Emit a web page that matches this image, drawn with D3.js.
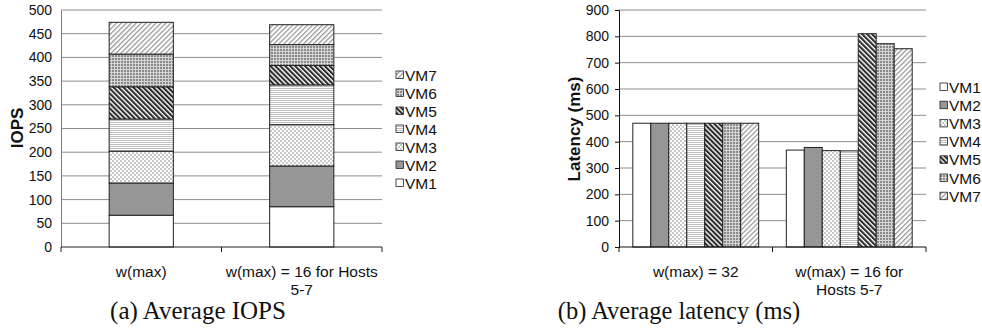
<!DOCTYPE html>
<html><head><meta charset="utf-8">
<script src="https://cdn.jsdelivr.net/npm/d3@7/dist/d3.min.js"></script>
<style>
html,body{margin:0;padding:0;background:#fff;}
svg{display:block;}
text{font-family:"Liberation Sans",Arial,sans-serif;fill:#111;}
</style></head>
<body>
<svg id="chart" width="982" height="333"></svg>
<script>
// ---- data ----
const vms = ["VM1","VM2","VM3","VM4","VM5","VM6","VM7"];
const iopsCats = ["w(max)", "w(max) = 16 for Hosts 5-7"];
const iopsCatLines = [["w(max)"], ["w(max) = 16 for Hosts", "5-7"]];
const iopsWmax = [67, 68, 67, 68, 68, 69, 67];
const iopsW16 = [85, 86, 87, 84, 41, 44, 42];
const latCats = ["w(max) = 32", "w(max) = 16 for Hosts 5-7"];
const latCatLines = [["w(max) = 32"], ["w(max) = 16 for", "Hosts 5-7"]];
const latWmax32 = [470, 470, 470, 470, 470, 470, 470];
const latW16 = [368, 378, 366, 365, 810, 772, 753];
const iopsTicks = d3.range(0, 501, 50);
const latTicks = d3.range(0, 901, 100);

const svg = d3.select("#chart");
const defs = svg.append("defs");

// ---- patterns ----
function pat(id, w, h, build, transform){
  const p = defs.append("pattern").attr("id", id).attr("patternUnits","userSpaceOnUse")
    .attr("width", w).attr("height", h);
  if (transform) p.attr("patternTransform", transform);
  build(p);
}
pat("p1",4,4,p=>{p.append("rect").attr("width",4).attr("height",4).attr("fill","#fff");});
pat("p2",4,4,p=>{p.append("rect").attr("width",4).attr("height",4).attr("fill","#969696");});
pat("p3",4,4,p=>{
  p.append("rect").attr("width",4).attr("height",4).attr("fill","#fff");
  p.append("rect").attr("width",2).attr("height",2).attr("fill","#c8c8c8");
  p.append("rect").attr("x",2).attr("y",2).attr("width",2).attr("height",2).attr("fill","#c8c8c8");
});
pat("p4",4,2,p=>{
  p.append("rect").attr("width",4).attr("height",2).attr("fill","#fff");
  p.append("rect").attr("width",4).attr("height",1).attr("fill","#bdbdbd");
});
pat("p5",3.5,4,p=>{
  p.append("rect").attr("width",3.5).attr("height",4).attr("fill","#fff");
  p.append("rect").attr("width",2.1).attr("height",4).attr("fill","#2a2a2a");
},"rotate(-45)");
pat("p6",3,3,p=>{
  p.append("rect").attr("width",3).attr("height",3).attr("fill","#8a8a8a");
  p.append("rect").attr("width",3).attr("height",1).attr("fill","#d4d4d4");
  p.append("rect").attr("width",1).attr("height",3).attr("fill","#d4d4d4");
});
pat("p7",3.5,4,p=>{
  p.append("rect").attr("width",3.5).attr("height",4).attr("fill","#fff");
  p.append("rect").attr("width",1.3).attr("height",4).attr("fill","#9a9a9a");
},"rotate(45)");
const fills = vms.map((v,i)=>`url(#p${i+1})`);

// ================= Chart (a) =================
const aLeft = 61, aRight = 382, plotTop = 10, plotBottom = 247;
const xa = d3.scaleBand().domain(iopsCats).range([aLeft, aRight]).padding(0);
const ya = d3.scaleLinear().domain([0, 500]).range([plotBottom, plotTop]);
const ga = svg.append("g");

// grid
ga.selectAll("line.grid").data(iopsTicks.filter(t=>t>0)).enter().append("line")
  .attr("x1", aLeft).attr("x2", aRight).attr("y1", d=>ya(d)).attr("y2", d=>ya(d))
  .attr("stroke", "#8c8c8c").attr("stroke-width", 1);

// stacked bars
const stackRows = iopsCats.map((c,ci)=>{
  const o = {cat:c};
  vms.forEach((v,i)=>{ o[v] = ci===0 ? iopsWmax[i] : iopsW16[i]; });
  return o;
});
const stacked = d3.stack().keys(vms)(stackRows);
const bwA = xa.bandwidth()*0.4;
stacked.forEach((layer, li)=>{
  ga.selectAll(null).data(layer).enter().append("rect")
    .attr("x", d=>xa(d.data.cat) + (xa.bandwidth()-bwA)/2)
    .attr("width", bwA)
    .attr("y", d=>ya(d[1]))
    .attr("height", d=>ya(d[0]) - ya(d[1]))
    .attr("fill", fills[li])
    .attr("stroke", "#222").attr("stroke-width", 1);
});

// y axis
const yAxA = ga.append("g").attr("transform", `translate(${aLeft},0)`)
  .call(d3.axisLeft(ya).tickValues(iopsTicks).tickSize(0).tickPadding(9));
yAxA.select(".domain").attr("stroke", "#7a7a7a");
yAxA.selectAll("text").style("font-size","14px").attr("fill","#111");

// x axis
ga.append("line").attr("x1", aLeft).attr("x2", aRight).attr("y1", plotBottom).attr("y2", plotBottom)
  .attr("stroke","#222");
[aLeft, aLeft + xa.bandwidth(), aRight].forEach(x=>{
  ga.append("line").attr("x1", x).attr("x2", x).attr("y1", plotBottom).attr("y2", plotBottom+5).attr("stroke","#222");
});
iopsCats.forEach((c,ci)=>{
  const t = ga.append("text").attr("text-anchor","middle")
    .attr("x", xa(c)+xa.bandwidth()/2).attr("y", 277).style("font-size","15.5px");
  iopsCatLines[ci].forEach((ln, li)=>{
    t.append("tspan").attr("x", xa(c)+xa.bandwidth()/2).attr("dy", li===0?0:17.5).text(ln);
  });
});

// y label
ga.append("text").attr("transform","translate(23,128) rotate(-90)")
  .attr("text-anchor","middle").style("font-size","17px").style("font-weight","bold").text("IOPS");

// legend (a) — VM7 on top
const legA = ga.append("g");
vms.slice().reverse().forEach((v, i)=>{
  const idx = vms.indexOf(v);
  const cy = 75 + i*18;
  legA.append("rect").attr("x", 396).attr("y", cy-4).attr("width", 7.5).attr("height", 7.5)
    .attr("fill", fills[idx]).attr("stroke","#222").attr("stroke-width",0.8);
  legA.append("text").attr("x", 405).attr("y", cy+5.5).style("font-size","15.5px").text(v);
});

// caption (a)
svg.append("text").attr("x", 198).attr("y", 319).attr("text-anchor","middle")
  .style("font-family","'Liberation Serif','Times New Roman',serif").style("font-size","25px")
  .text("(a) Average IOPS");

// ================= Chart (b) =================
const bLeft = 619, bRight = 926;
const xb = d3.scaleBand().domain(latCats).range([bLeft, bRight]).padding(0);
const xb1 = d3.scaleBand().domain(vms).range([xb.bandwidth()*0.09, xb.bandwidth()*0.91]).padding(0);
const yb = d3.scaleLinear().domain([0, 900]).range([plotBottom, plotTop]);
const gb = svg.append("g");

gb.selectAll("line.grid").data(latTicks.filter(t=>t>0)).enter().append("line")
  .attr("x1", bLeft).attr("x2", bRight).attr("y1", d=>yb(d)).attr("y2", d=>yb(d))
  .attr("stroke", "#8c8c8c").attr("stroke-width", 1);

latCats.forEach((c, ci)=>{
  const vals = ci===0 ? latWmax32 : latW16;
  gb.selectAll(null).data(vals).enter().append("rect")
    .attr("x", (d,i)=>xb(c) + xb1(vms[i]))
    .attr("width", xb1.bandwidth())
    .attr("y", d=>yb(d))
    .attr("height", d=>plotBottom - yb(d))
    .attr("fill", (d,i)=>fills[i])
    .attr("stroke", "#222").attr("stroke-width", 1);
});

const yAxB = gb.append("g").attr("transform", `translate(${bLeft},0)`)
  .call(d3.axisLeft(yb).tickValues(latTicks).tickSize(4).tickPadding(6));
yAxB.select(".domain").attr("stroke", "#111");
yAxB.selectAll("line").attr("stroke","#111");
yAxB.selectAll("text").style("font-size","14px").attr("fill","#111");

gb.append("line").attr("x1", bLeft).attr("x2", bRight).attr("y1", plotBottom).attr("y2", plotBottom).attr("stroke","#111");
[bLeft, bLeft + xb.bandwidth(), bRight].forEach(x=>{
  gb.append("line").attr("x1", x).attr("x2", x).attr("y1", plotBottom).attr("y2", plotBottom+5).attr("stroke","#111");
});
latCats.forEach((c,ci)=>{
  const t = gb.append("text").attr("text-anchor","middle")
    .attr("x", xb(c)+xb.bandwidth()/2).attr("y", 277).style("font-size","15.5px");
  latCatLines[ci].forEach((ln, li)=>{
    t.append("tspan").attr("x", xb(c)+xb.bandwidth()/2).attr("dy", li===0?0:17.5).text(ln);
  });
});

gb.append("text").attr("transform","translate(580,129) rotate(-90)")
  .attr("text-anchor","middle").style("font-size","17px").style("font-weight","bold").text("Latency (ms)");

const legB = gb.append("g");
vms.forEach((v, i)=>{
  const cy = 87 + i*18.2;
  legB.append("rect").attr("x", 940).attr("y", cy-4).attr("width", 7.5).attr("height", 7.5)
    .attr("fill", fills[i]).attr("stroke","#222").attr("stroke-width",0.8);
  legB.append("text").attr("x", 949).attr("y", cy+5.5).style("font-size","15.5px").text(v);
});

svg.append("text").attr("x", 679).attr("y", 319).attr("text-anchor","middle")
  .style("font-family","'Liberation Serif','Times New Roman',serif").style("font-size","24.5px")
  .text("(b) Average latency (ms)");
</script>
</body></html>
